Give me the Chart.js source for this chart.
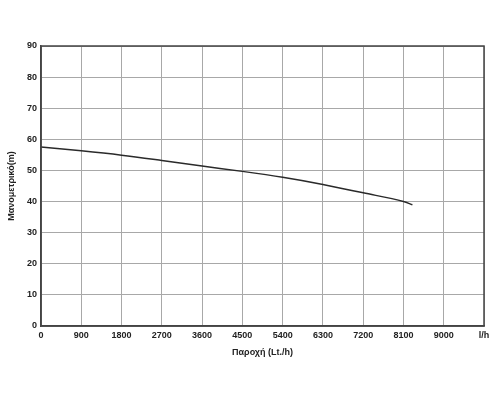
<!doctype html>
<html>
<head>
<meta charset="UTF-8">
<title>Παροχή - Μανομετρικό</title>
<script src="https://cdn.jsdelivr.net/npm/chart.js@4.4.0/dist/chart.umd.min.js"></script>
<style>
body { margin: 0; background: #fff; }
#wrap { width: 500px; height: 406px; }
</style>
</head>
<body>
<div id="wrap"><canvas id="curve" width="500" height="406"></canvas></div>
<script>
// flow (Lt./h) and head (m)
var flow = [0, 900, 1800, 2700, 3600, 4500, 5400, 6300, 7200, 8100, 8300];
var head = [57.5, 56.3, 54.9, 53.2, 51.4, 49.7, 47.8, 45.5, 42.8, 40.0, 39.0];

var xMax = 9900, xStep = 900, xUnit = 'l/h';
var yMax = 90, yStep = 10;

var points = flow.map(function (f, i) { return { x: f, y: head[i] }; });

// frame round the plot area (top and right edges too)
var frame = {
  id: 'frame',
  afterDraw: function (chart) {
    var a = chart.chartArea, c = chart.ctx;
    c.save();
    c.strokeStyle = '#444';
    c.lineWidth = 1.5;
    c.strokeRect(a.left, a.top, a.right - a.left, a.bottom - a.top);
    c.restore();
  }
};

var tickFont = { family: 'Liberation Sans, Arial, sans-serif', size: 9, weight: 'bold' };
var titleFont = { family: 'Liberation Sans, Arial, sans-serif', size: 9, weight: 'bold' };

new Chart(document.getElementById('curve'), {
  type: 'line',
  data: {
    datasets: [{
      data: points,
      borderColor: '#2a2a2a',
      borderWidth: 1.5,
      pointRadius: 0,
      cubicInterpolationMode: 'monotone',
      fill: false
    }]
  },
  options: {
    responsive: false,
    animation: false,
    layout: { padding: { top: 46, right: 16, left: 0, bottom: 0 } },
    plugins: { legend: { display: false }, tooltip: { enabled: false } },
    scales: {
      x: {
        type: 'linear',
        min: 0, max: xMax,
        grid: { color: '#a8a8a8', lineWidth: 1, drawTicks: false },
        border: { color: '#444', width: 1.5 },
        ticks: {
          stepSize: xStep, padding: 4, color: '#222', font: tickFont,
          maxRotation: 0, autoSkip: false,
          callback: function (v) { return v === xMax ? xUnit : v; }
        },
        title: { display: true, text: 'Παροχή (Lt./h)', color: '#222', font: titleFont,
                 padding: { top: 0, bottom: 48 } },
        afterFit: function (s) { s.height = 80; }
      },
      y: {
        min: 0, max: yMax,
        grid: { color: '#a8a8a8', lineWidth: 1, drawTicks: false },
        border: { color: '#444', width: 1.5 },
        ticks: { stepSize: yStep, padding: 4, color: '#222', font: tickFont },
        title: { display: true, text: 'Μανομετρικό(m)', color: '#222', font: titleFont,
                 padding: { top: 6, bottom: 0 } },
        afterFit: function (s) { s.width = 41; }
      }
    }
  },
  plugins: [frame]
});
</script>
</body>
</html>
